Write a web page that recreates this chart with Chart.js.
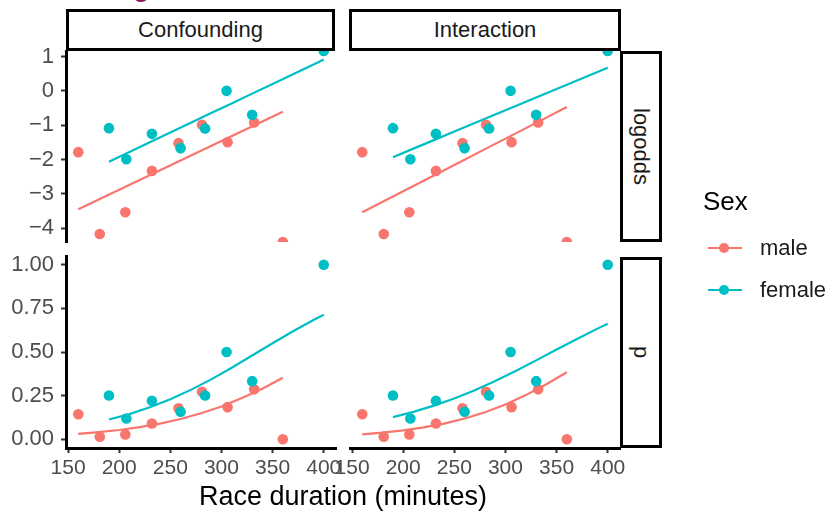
<!DOCTYPE html>
<html>
<head>
<meta charset="utf-8">
<script src="https://cdn.jsdelivr.net/npm/chart.js@4"></script>
<style>
  body { margin: 0; background: #fff; font-family: "Liberation Sans", Arial, sans-serif; }
  #wrap { position: relative; width: 827px; height: 513px; overflow: hidden; }
  canvas { position: absolute; left: 0; top: 0; }
  .strip { position: absolute; box-sizing: border-box; border: 3px solid #000; background: #fff;
           display: flex; align-items: center; justify-content: center; color: #1a1a1a; font-size: 22px; }
  .strip.side span { writing-mode: vertical-rl; }
  .txt { position: absolute; white-space: nowrap; }
  .key { position: absolute; width: 34px; height: 2px; }
  .dot { position: absolute; width: 10px; height: 10px; border-radius: 50%; }
</style>
</head>
<body>
<div id="wrap">
  <div class="txt" style="left:133px; top:-29px; font-size:30px; line-height:30px; color:#8e1b5e;">g</div>
  <canvas id="tl" width="827" height="513"></canvas>
  <canvas id="tr" width="827" height="513"></canvas>
  <canvas id="bl" width="827" height="513"></canvas>
  <canvas id="br" width="827" height="513"></canvas>

  <div class="strip" style="left:66px; top:9px; width:269px; height:42px;">Confounding</div>
  <div class="strip" style="left:349px; top:9px; width:272px; height:42px;">Interaction</div>
  <div class="strip side" style="left:620px; top:51px; width:42px; height:191px;"><span>logodds</span></div>
  <div class="strip side" style="left:620px; top:257px; width:42px; height:191px;"><span>p</span></div>

  <div class="txt" style="left:0; width:686px; text-align:center; top:483px; font-size:27px; line-height:27px; color:#000;">Race duration (minutes)</div>

  <div class="txt" style="left:703px; top:188px; font-size:26px; line-height:26px; color:#000;">Sex</div>
  <div class="key" style="left:708px; top:247px; background:#F8766D;"></div>
  <div class="dot" style="left:719px; top:243px; background:#F8766D;"></div>
  <div class="txt" style="left:760px; top:237px; font-size:22px; line-height:22px; color:#1a1a1a;">male</div>
  <div class="key" style="left:708px; top:289px; background:#00BFC4;"></div>
  <div class="dot" style="left:719px; top:285px; background:#00BFC4;"></div>
  <div class="txt" style="left:760px; top:279px; font-size:22px; line-height:22px; color:#1a1a1a;">female</div>
</div>

<script>
// Axis ticks
const xTicks = [150, 200, 250, 300, 350, 400];
const logoddsTicks = [-4, -3, -2, -1, 0, 1];
const pTicks = [0, 0.25, 0.5, 0.75, 1];

// Observed points (same in both columns); +/-Infinity sit on the panel edge
const maleDuration = [160, 181, 206, 232, 258, 281, 306, 332, 360];
const maleLogodds = [-1.785, -4.165, -3.533, -2.33, -1.523, -0.99, -1.494, -0.922, -Infinity];
const maleP = [0.143, 0.015, 0.028, 0.09, 0.178, 0.272, 0.184, 0.286, 0];

const femaleDuration = [190, 207, 232, 260, 284, 305, 330, 400];
const femaleLogodds = [-1.086, -1.99, -1.252, -1.668, -1.097, 0, -0.698, Infinity];
const femaleP = [0.251, 0.119, 0.22, 0.158, 0.251, 0.5, 0.333, 1];

// Fitted lines
const fitMaleX = [160, 180, 200, 220, 240, 260, 280, 300, 320, 340, 360];
const fitFemaleX = [190, 210, 230, 250, 270, 290, 310, 330, 350, 370, 390, 400];

const confMaleLogodds = [-3.445, -3.162, -2.878, -2.595, -2.311, -2.028, -1.745, -1.461, -1.178, -0.894, -0.611];
const confFemaleLogodds = [-2.065, -1.782, -1.498, -1.215, -0.932, -0.648, -0.365, -0.081, 0.202, 0.486, 0.769, 0.911];
const confMaleP = [0.031, 0.041, 0.053, 0.070, 0.090, 0.116, 0.149, 0.188, 0.236, 0.290, 0.352];
const confFemaleP = [0.113, 0.144, 0.183, 0.229, 0.283, 0.343, 0.410, 0.480, 0.550, 0.619, 0.683, 0.713];

const intMaleLogodds = [-3.533, -3.227, -2.921, -2.615, -2.309, -2.003, -1.697, -1.391, -1.085, -0.779, -0.473];
const intFemaleLogodds = [-1.930, -1.682, -1.434, -1.186, -0.938, -0.690, -0.442, -0.194, 0.054, 0.302, 0.550, 0.674];
const intMaleP = [0.028, 0.038, 0.051, 0.068, 0.090, 0.119, 0.155, 0.199, 0.253, 0.315, 0.384];
const intFemaleP = [0.127, 0.157, 0.193, 0.234, 0.281, 0.334, 0.391, 0.452, 0.514, 0.575, 0.634, 0.662];

const MALE = '#F8766D';
const FEMALE = '#00BFC4';
const FONT = '"Liberation Sans", Arial, sans-serif';

const X_RANGE = [148, 412];
const LOGODDS_RANGE = [-4.4, 1.16];
const P_RANGE = [-0.05, 1.05];

function toPoints(xs, ys, range) {
    return xs.map((x, i) => ({ x: x, y: Math.min(Math.max(ys[i], range[0]), range[1]) }));
}

function pointSet(xs, ys, range, color, order) {
    return {
        data: toPoints(xs, ys, range),
        showLine: false,
        pointRadius: 5.3,
        pointBorderWidth: 0,
        backgroundColor: color,
        borderColor: color,
        clip: 0,
        order: order
    };
}

function lineSet(xs, ys, range, color) {
    return {
        data: toPoints(xs, ys, range),
        showLine: true,
        pointRadius: 0,
        borderWidth: 2.2,
        borderColor: color,
        backgroundColor: color,
        tension: 0,
        clip: 0,
        order: 0
    };
}

function zeroPad(scale) {
    scale.paddingTop = 0;
    scale.paddingBottom = 0;
    scale.paddingLeft = 0;
    scale.paddingRight = 0;
}

// area: panel box in page pixels
function makePanel(id, area, yRange, yTicks, yLabel, showY, showX, datasets) {
    const Y_AXIS_W = 66;
    const X_AXIS_H = 40;
    new Chart(document.getElementById(id), {
        type: 'scatter',
        data: { datasets: datasets },
        options: {
            responsive: false,
            animation: false,
            events: [],
            layout: {
                padding: {
                    left: showY ? area.left - Y_AXIS_W : area.left,
                    right: 827 - area.right,
                    top: area.top,
                    bottom: showX ? 513 - area.bottom - X_AXIS_H : 513 - area.bottom
                }
            },
            plugins: { legend: { display: false }, tooltip: { enabled: false } },
            scales: {
                x: {
                    type: 'linear',
                    min: X_RANGE[0],
                    max: X_RANGE[1],
                    display: showX,
                    afterBuildTicks: s => { s.ticks = xTicks.map(v => ({ value: v })); },
                    afterFit: s => { s.height = showX ? X_AXIS_H : 0; zeroPad(s); },
                    ticks: {
                        autoSkip: false, maxRotation: 0, padding: 3,
                        color: '#4D4D4D', font: { family: FONT, size: 21 },
                        callback: v => String(v)
                    },
                    grid: {
                        display: true, drawOnChartArea: false, drawTicks: true, tickLength: 5,
                        tickColor: '#333333', tickWidth: 2, color: '#333333'
                    },
                    border: { display: true, color: '#000000', width: 3 }
                },
                y: {
                    type: 'linear',
                    position: 'left',
                    min: yRange[0],
                    max: yRange[1],
                    display: showY,
                    afterBuildTicks: s => { s.ticks = yTicks.map(v => ({ value: v })); },
                    afterFit: s => { s.width = showY ? Y_AXIS_W : 0; zeroPad(s); },
                    ticks: {
                        autoSkip: false, padding: 7,
                        color: '#4D4D4D', font: { family: FONT, size: 22 },
                        callback: yLabel
                    },
                    grid: {
                        display: true, drawOnChartArea: false, drawTicks: true, tickLength: 5,
                        tickColor: '#333333', tickWidth: 2, color: '#333333'
                    },
                    border: { display: true, color: '#000000', width: 3 }
                }
            }
        }
    });
}

const logoddsLabel = v => v < 0 ? '\u2212' + Math.abs(v) : String(v);
const pLabel = v => Number(v).toFixed(2);

const TOP = { top: 51, bottom: 242 };
const BOTTOM = { top: 256, bottom: 448 };
const LEFT = { left: 66, right: 336 };
const RIGHT = { left: 350, right: 620 };

makePanel('tl', { ...LEFT, ...TOP }, LOGODDS_RANGE, logoddsTicks, logoddsLabel, true, false, [
    lineSet(fitFemaleX, confFemaleLogodds, LOGODDS_RANGE, FEMALE),
    lineSet(fitMaleX, confMaleLogodds, LOGODDS_RANGE, MALE),
    pointSet(femaleDuration, femaleLogodds, LOGODDS_RANGE, FEMALE, 1),
    pointSet(maleDuration, maleLogodds, LOGODDS_RANGE, MALE, 2)
]);

makePanel('tr', { ...RIGHT, ...TOP }, LOGODDS_RANGE, logoddsTicks, logoddsLabel, false, false, [
    lineSet(fitFemaleX, intFemaleLogodds, LOGODDS_RANGE, FEMALE),
    lineSet(fitMaleX, intMaleLogodds, LOGODDS_RANGE, MALE),
    pointSet(femaleDuration, femaleLogodds, LOGODDS_RANGE, FEMALE, 1),
    pointSet(maleDuration, maleLogodds, LOGODDS_RANGE, MALE, 2)
]);

makePanel('bl', { ...LEFT, ...BOTTOM }, P_RANGE, pTicks, pLabel, true, true, [
    lineSet(fitFemaleX, confFemaleP, P_RANGE, FEMALE),
    lineSet(fitMaleX, confMaleP, P_RANGE, MALE),
    pointSet(femaleDuration, femaleP, P_RANGE, FEMALE, 1),
    pointSet(maleDuration, maleP, P_RANGE, MALE, 2)
]);

makePanel('br', { ...RIGHT, ...BOTTOM }, P_RANGE, pTicks, pLabel, false, true, [
    lineSet(fitFemaleX, intFemaleP, P_RANGE, FEMALE),
    lineSet(fitMaleX, intMaleP, P_RANGE, MALE),
    pointSet(femaleDuration, femaleP, P_RANGE, FEMALE, 1),
    pointSet(maleDuration, maleP, P_RANGE, MALE, 2)
]);
</script>
</body>
</html>
